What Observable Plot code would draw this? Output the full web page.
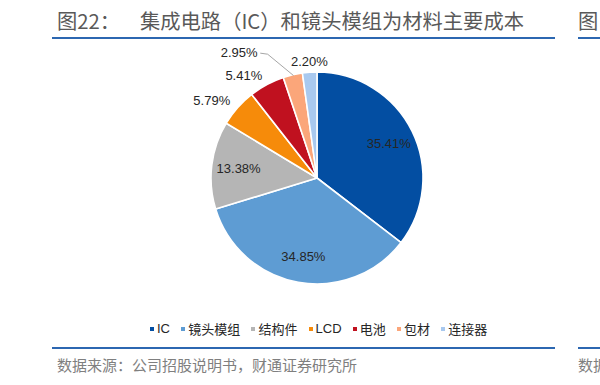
<!DOCTYPE html>
<html>
<head>
<meta charset="utf-8">
<script src="https://cdn.jsdelivr.net/npm/d3@7"></script>
<script src="https://cdn.jsdelivr.net/npm/@observablehq/plot@0.6"></script>
<style>
  html, body { margin: 0; padding: 0; background: #fff; }
  #wrap { position: relative; width: 600px; height: 385px; overflow: hidden; font-family: "Liberation Sans", "Noto Sans CJK SC", sans-serif; }
  .abs { position: absolute; white-space: nowrap; }
  .title { font-family: "Noto Sans CJK SC", sans-serif; font-size: 20.3px; color: #595959; line-height: 1; }
  .rule { position: absolute; height: 1.5px; background: #2C67B1; }
  .foot { font-family: "Noto Sans CJK SC", sans-serif; font-size: 15px; color: #7f7f7f; line-height: 1; }
  #legend { position: absolute; top: 319px; left: 150px; display: flex; align-items: center; font-size: 13px; color: #262626; font-family: "Liberation Sans", "Noto Sans CJK SC", sans-serif; }
  #legend .item { display: flex; align-items: center; margin-right: 11.2px; }
  #legend .sw { width: 4px; height: 4px; margin-right: 3px; }
  #chart { position: absolute; left: 0; top: 0; }
</style>
</head>
<body>
<div id="wrap">
  <div id="chart"></div>
  <div class="abs title" style="left:57px; top:10px;">图22：</div>
  <div class="abs title" style="left:140px; top:10px;">集成电路（IC）和镜头模组为材料主要成本</div>
  <div class="abs title" style="left:578px; top:10px;">图</div>
  <div class="rule" style="left:52px; top:37px; width:503px;"></div>
  <div class="rule" style="left:578px; top:37px; width:30px;"></div>
  <div id="legend"></div>
  <div class="rule" style="left:52px; top:347px; width:503px;"></div>
  <div class="rule" style="left:578px; top:347px; width:30px;"></div>
  <div class="abs foot" style="left:57px; top:357px;">数据来源：公司招股说明书，财通证券研究所</div>
  <div class="abs foot" style="left:578px; top:357px;">数据</div>
</div>
<script>
// ---- data ----
const categories = ["IC", "镜头模组", "结构件", "LCD", "电池", "包材", "连接器"];
const shares = [35.41, 34.85, 13.38, 5.79, 5.41, 2.95, 2.20];
const colors = ["#034EA2", "#5E9CD3", "#B5B5B5", "#F68B0A", "#C0111F", "#FBA67A", "#A9C9EF"];

// ---- layout ----
const R = 106;             // pie radius in px (data units = px around the centre)
const CX = 317, CY = 178;  // centre in the frame

const table = categories.map((c, i) => ({ name: c, value: shares[i], color: colors[i] }));
const arcs = d3.pie().sort(null).value(d => d.value).startAngle(0).endAngle(2 * Math.PI)(table);

const labels = arcs.map((a, i) => {
  const mid = (a.startAngle + a.endAngle) / 2;
  const inside = a.data.value > 10;
  let r = inside ? 0.75 * R : 1.1 * R;
  let ang = mid;
  let leader = null;
  if (!inside && a.data.value < 3 && a.data.value > 2.5) {
    // crowded label pushed out with a leader line
    r = 1.31 * R; ang = mid - 12.3 * Math.PI / 180;
  }
  const x = r * Math.sin(ang), y = -r * Math.cos(ang);
  let anchor = "middle";
  if (!inside && x < -15) anchor = "end";
  if (r > 1.2 * R) {
    leader = [
      { x: x + 3, y: y },
      { x: x + 10, y: y + 1 },
      { x: R * 1.0 * Math.sin(mid), y: -R * 1.0 * Math.cos(mid) }
    ];
  }
  return { text: a.data.value.toFixed(2) + "%", x, y, anchor, leader };
});

const pieMark = (index, scales) => {
  const g = d3.create("svg:g")
    .attr("transform", `translate(${scales.x(0)},${scales.y(0)})`);
  const arcGen = d3.arc().innerRadius(0).outerRadius(scales.x(R) - scales.x(0));
  g.selectAll("path").data(arcs).join("path")
    .attr("d", arcGen)
    .attr("fill", d => d.data.color)
    .attr("stroke", "#fff")
    .attr("stroke-width", 1.6)
    .attr("stroke-linejoin", "round");
  return g.node();
};

const leaderData = labels.filter(l => l.leader).flatMap((l, k) => l.leader.map(p => ({ ...p, k })));

const plot = Plot.plot({
  width: 600,
  height: 385,
  margin: 0,
  x: { domain: [-CX, 600 - CX], range: [0, 600], axis: null },
  y: { domain: [-CY, 385 - CY], range: [0, 385], axis: null },
  marks: [
    pieMark,
    Plot.line(leaderData, { x: "x", y: "y", z: "k", stroke: "#A6A6A6", strokeWidth: 1 }),
    Plot.text(labels.filter(l => l.anchor === "end"), { x: "x", y: "y", text: "text", textAnchor: "end", fontSize: 13, fill: "#262626", fontFamily: "Liberation Sans, Arial, sans-serif" }),
    Plot.text(labels.filter(l => l.anchor === "middle"), { x: "x", y: "y", text: "text", textAnchor: "middle", fontSize: 13, fill: "#262626", fontFamily: "Liberation Sans, Arial, sans-serif" })
  ]
});
document.getElementById("chart").appendChild(plot);

// legend
const lg = d3.select("#legend");
const items = lg.selectAll(".item").data(table).join("div").attr("class", "item");
items.append("div").attr("class", "sw").style("background", d => d.color);
items.append("span").text(d => d.name);
</script>
</body>
</html>
